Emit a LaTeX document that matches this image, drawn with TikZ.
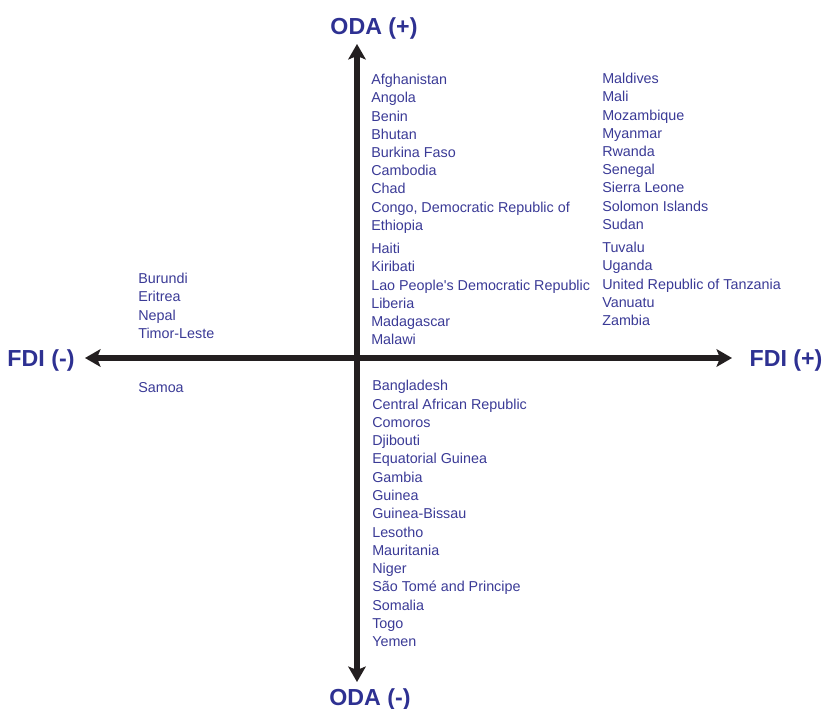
\documentclass[tikz,border=0pt]{standalone}
\usepackage{fontspec}
\setmainfont{Liberation Sans}
\usetikzlibrary{arrows.meta}
\definecolor{AxisBlack}{RGB}{35,31,32}
\definecolor{LabelBlue}{RGB}{46,49,146}
\definecolor{CountryBlue}{RGB}{58,58,150}

\tikzset{
  axislabel/.style={font=\bfseries\fontsize{16.5}{19}\selectfont, text=LabelBlue, inner sep=0pt, text height=12pt, text depth=3.5pt},
  country/.style={anchor=west, inner sep=0pt, font=\fontsize{10.2}{12}\selectfont, text=CountryBlue, text height=7.6pt, text depth=2.2pt},
  axisline/.style={{Stealth[length=11pt,width=12.5pt,inset=2.5pt]}-{Stealth[length=11pt,width=12.5pt,inset=2.5pt]}, line width=3.8pt, draw=AxisBlack}
}

\begin{document}
\begin{tikzpicture}[x=0.025cm, y=-0.025cm]
    \useasboundingbox (0,0) rectangle (824,709);

    % Ejes
    \coordinate (fdi-neg-end) at (85,358);
    \coordinate (fdi-pos-end) at (732,358);
    \coordinate (oda-pos-end) at (357,44);
    \coordinate (oda-neg-end) at (357,682);
    \draw[axisline] (fdi-neg-end) -- (fdi-pos-end);
    \draw[axisline] (oda-neg-end) -- (oda-pos-end);

    % Etiquetas de los ejes
    \node[axislabel] (oda-pos) at (374,29) {ODA (+)};
    \node[axislabel] (oda-neg) at (370,700) {ODA (-)};
    \node[axislabel] (fdi-neg) at (41,361) {FDI (-)};
    \node[axislabel] (fdi-pos) at (786,361) {FDI (+)};

    % Cuadrante ODA (+), FDI (-)
    \foreach \name [count=\i from 0] in {Burundi, Eritrea, Nepal, Timor-Leste}
        \node[country] (nw-\i) at (138,280+18.2*\i) {\name};

    % Cuadrante ODA (+), FDI (+)
    \foreach \name [count=\i from 0] in {Afghanistan, Angola, Benin, Bhutan, Burkina Faso, Cambodia, Chad, {Congo, Democratic Republic of}, Ethiopia}
        \node[country] (na-\i) at (371,81+18.2*\i) {\name};
    \foreach \name [count=\i from 0] in {Haiti, Kiribati, Lao People\textquotesingle s Democratic Republic, Liberia, Madagascar, Malawi}
        \node[country] (nb-\i) at (371,250+18.2*\i) {\name};
    \foreach \name [count=\i from 0] in {Maldives, Mali, Mozambique, Myanmar, Rwanda, Senegal, Sierra Leone, Solomon Islands, Sudan}
        \node[country] (nc-\i) at (602,80+18.2*\i) {\name};
    \foreach \name [count=\i from 0] in {Tuvalu, Uganda, United Republic of Tanzania, Vanuatu, Zambia}
        \node[country] (nd-\i) at (602,249+18.2*\i) {\name};

    % Cuadrante ODA (-), FDI (-)
    \node[country] (sw-0) at (138,389) {Samoa};

    % Cuadrante ODA (-), FDI (+)
    \foreach \name [count=\i from 0] in {Bangladesh, Central African Republic, Comoros, Djibouti, Equatorial Guinea, Gambia, Guinea, Guinea-Bissau, Lesotho, Mauritania, Niger, São Tomé and Principe, Somalia, Togo, Yemen}
        \node[country] (se-\i) at (372,387+18.29*\i) {\name};
\end{tikzpicture}
\end{document}
